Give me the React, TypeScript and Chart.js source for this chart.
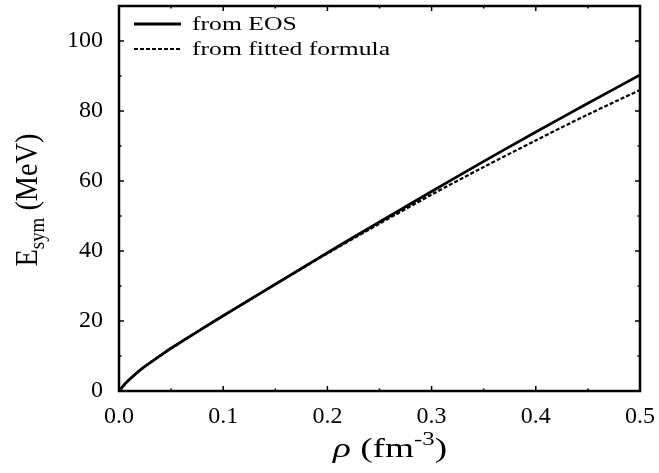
import React, { useEffect, useRef } from 'react';
import { Chart, registerables } from 'chart.js';
Chart.register(...registerables);

const rho = [0, 0.005, 0.01, 0.02, 0.03, 0.04, 0.05, 0.075, 0.1, 0.125, 0.15, 0.175, 0.2, 0.25, 0.3, 0.35, 0.4, 0.45, 0.5];
const eFromEOS = [0, 1.8, 3.3, 5.9, 8.1, 10.2, 12.2, 16.9, 21.5, 26.0, 30.5, 35.0, 39.5, 48.3, 57.0, 65.6, 74.0, 82.2, 90.3];
const eFromFit = [0, 1.8, 3.3, 5.9, 8.1, 10.2, 12.2, 16.9, 21.5, 26.0, 30.5, 34.9, 39.3, 47.8, 56.1, 64.0, 71.6, 79.0, 86.0];
const seriesLabels = ['from EOS', 'from fitted formula'];
const xMajorTicks = [0, 0.1, 0.2, 0.3, 0.4, 0.5];
const xMinorTicks = [0.05, 0.15, 0.25, 0.35, 0.45];
const yMajorTicks = [0, 20, 40, 60, 80, 100];
const yMinorTicks = [10, 30, 50, 70, 90];

const SERIF = '"Liberation Serif", "DejaVu Serif", serif';

const decorPlugin = {
  id: 'decor',
  afterDraw(chart: any) {
    const { ctx, chartArea: a, scales } = chart;
    const xs = scales.x;
    const ys = scales.y;
    ctx.save();
    ctx.strokeStyle = '#000';
    ctx.lineWidth = 1.5;
    const tick = (len: number, vals: number[], horiz: boolean) => {
      vals.forEach((v) => {
        ctx.beginPath();
        if (horiz) {
          const px = xs.getPixelForValue(v);
          ctx.moveTo(px, a.bottom); ctx.lineTo(px, a.bottom - len);
          ctx.moveTo(px, a.top); ctx.lineTo(px, a.top + len);
        } else {
          const py = ys.getPixelForValue(v);
          ctx.moveTo(a.left, py); ctx.lineTo(a.left + len, py);
          ctx.moveTo(a.right, py); ctx.lineTo(a.right - len, py);
        }
        ctx.stroke();
      });
    };
    tick(5, xMajorTicks, true);
    tick(2.5, xMinorTicks, true);
    tick(5, yMajorTicks, false);
    tick(2.5, yMinorTicks, false);
    ctx.lineWidth = 2.5;
    ctx.strokeRect(a.left, a.top, a.right - a.left, a.bottom - a.top);

    // legend
    const ds = chart.data.datasets;
    const rows = [18, 43];
    ctx.fillStyle = '#000';
    ctx.textBaseline = 'middle';
    ctx.textAlign = 'left';
    ds.forEach((d: any, i: number) => {
      const y = a.top + rows[i];
      ctx.beginPath();
      ctx.lineWidth = d.borderWidth;
      ctx.setLineDash(d.borderDash || []);
      ctx.moveTo(a.left + 15, y);
      ctx.lineTo(a.left + 62, y);
      ctx.stroke();
      ctx.setLineDash([]);
      ctx.save();
      ctx.translate(a.left + 73, y + 1);
      ctx.scale(1.35, 1);
      ctx.font = `19px ${SERIF}`;
      ctx.fillText(d.label, 0, 0);
      ctx.restore();
    });

    // y title
    ctx.save();
    ctx.translate(37, 200);
    ctx.rotate(-Math.PI / 2);
    ctx.scale(1.05, 1.15);
    ctx.textBaseline = 'alphabetic';
    const big = `27px ${SERIF}`;
    const small = `18px ${SERIF}`;
    const parts: [string, string, number][] = [
      ['E', big, 0],
      ['sym', small, 6],
      [' (MeV)', big, 0],
    ];
    let total = 0;
    parts.forEach(([t, f]) => { ctx.font = f; total += ctx.measureText(t).width; });
    let x = -total / 2;
    parts.forEach(([t, f, dy]) => {
      ctx.font = f;
      ctx.fillText(t, x, dy);
      x += ctx.measureText(t).width;
    });
    ctx.restore();

    // x title
    ctx.save();
    ctx.translate(390, 457);
    ctx.scale(1.38, 1);
    const xparts: [string, string, number][] = [
      ['ρ', `italic 27px ${SERIF}`, 0],
      [' (fm', `27px ${SERIF}`, 0],
      ['-3', `18px ${SERIF}`, -12],
      [')', `27px ${SERIF}`, 0],
    ];
    ctx.textBaseline = 'alphabetic';
    let tw = 0;
    xparts.forEach(([t, f]) => { ctx.font = f; tw += ctx.measureText(t).width; });
    let xx = -tw / 2;
    xparts.forEach(([t, f, dy]) => {
      ctx.font = f;
      ctx.fillText(t, xx, dy);
      xx += ctx.measureText(t).width;
    });
    ctx.restore();
    ctx.restore();
  },
};

const zeroPad = (s: any) => {
  s.paddingTop = 0;
  s.paddingBottom = 0;
  s.paddingLeft = 0;
  s.paddingRight = 0;
};

export default function App() {
  const ref = useRef<HTMLCanvasElement>(null);
  useEffect(() => {
    document.body.style.margin = '0';
    const chart = new Chart(ref.current!, {
      type: 'line',
      data: {
        datasets: [
          {
            label: seriesLabels[0],
            data: rho.map((r, i) => ({ x: r, y: eFromEOS[i] })),
            borderColor: '#000',
            borderWidth: 2.8,
            pointRadius: 0,
            tension: 0.3,
            fill: false,
          },
          {
            label: seriesLabels[1],
            data: rho.map((r, i) => ({ x: r, y: eFromFit[i] })),
            borderColor: '#000',
            borderWidth: 2.2,
            borderDash: [4, 2],
            pointRadius: 0,
            tension: 0.3,
            fill: false,
          },
        ],
      },
      plugins: [decorPlugin],
      options: {
        animation: false,
        responsive: false,
        maintainAspectRatio: false,
        layout: { padding: { top: 6, right: 19, left: 0, bottom: 0 } },
        plugins: { legend: { display: false }, tooltip: { enabled: false } },
        scales: {
          x: {
            type: 'linear',
            min: 0,
            max: 0.5,
            grid: { display: false, drawTicks: false },
            border: { display: false },
            afterBuildTicks: (s: any) => { s.ticks = xMajorTicks.map((v) => ({ value: v })); },
            afterFit: (s: any) => { s.height = 82; zeroPad(s); },
            ticks: {
              color: '#000',
              padding: 11,
              maxRotation: 0,
              font: { family: SERIF, size: 24 },
              callback: (v: any) => Number(v).toFixed(1),
            },
          },
          y: {
            type: 'linear',
            min: 0,
            max: 110,
            grid: { display: false, drawTicks: false },
            border: { display: false },
            afterBuildTicks: (s: any) => { s.ticks = yMajorTicks.map((v) => ({ value: v })); },
            afterFit: (s: any) => { s.width = 119; zeroPad(s); },
            ticks: {
              color: '#000',
              padding: 16,
              font: { family: SERIF, size: 24 },
              callback: (v: any) => String(v),
            },
          },
        },
      },
    });
    return () => chart.destroy();
  }, []);
  return (
    <div style={{ position: 'absolute', left: 0, top: 0, width: 659, height: 473 }}>
      <canvas ref={ref} width={659} height={473} style={{ width: 659, height: 473 }} />
    </div>
  );
}
